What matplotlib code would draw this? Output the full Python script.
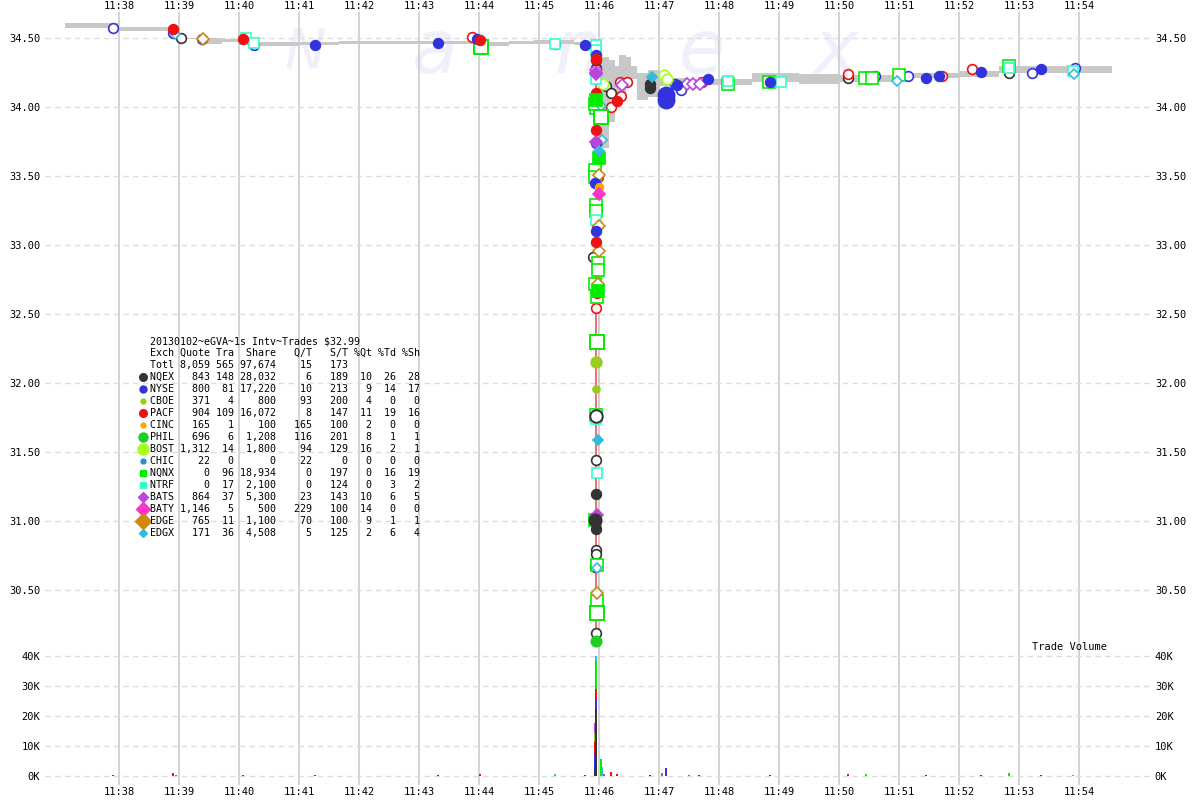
import matplotlib.pyplot as plt
import numpy as np

plt.rcParams['font.family'] = 'DejaVu Sans Mono'

# ---- NBBO quote band (time, bid, ask) ----
quote_times = ["11:37:06", "11:38:00", "11:38:58", "11:39:20", "11:39:43", "11:40:00",
               "11:40:15", "11:41:00", "11:41:40", "11:43:40", "11:44:10", "11:44:30",
               "11:44:55", "11:45:35", "11:45:59", "11:46:00", "11:46:10", "11:46:16",
               "11:46:20", "11:46:27", "11:46:32", "11:46:38", "11:46:49", "11:47:01",
               "11:47:30", "11:48:33", "11:49:20", "11:50:00", "11:51:00", "11:52:00",
               "11:52:40", "11:53:30", "11:54:33"]
quote_bid = [34.57, 34.55, 34.49, 34.455, 34.47, 34.45, 34.44, 34.45, 34.455, 34.46, 34.44,
             34.46, 34.46, 34.45, 30.20, 33.70, 33.89, 34.10, 34.04, 34.15, 34.20, 34.05,
             34.07, 34.15, 34.16, 34.18, 34.17, 34.18, 34.21, 34.22, 34.25, 34.25, 34.25]
quote_ask = [34.61, 34.58, 34.50, 34.50, 34.49, 34.49, 34.47, 34.47, 34.475, 34.48, 34.47,
             34.48, 34.485, 34.47, 34.42, 34.36, 34.34, 34.30, 34.38, 34.36, 34.30, 34.25,
             34.27, 34.21, 34.20, 34.25, 34.24, 34.23, 34.245, 34.26, 34.30, 34.30, 34.30]

# ---- prints by exchange: (time, price) ----
nqex_fill = [("11:45:57", 34.34), ("11:45:57", 31.195), ("11:45:57", 30.94),
             ("11:46:51", 34.17), ("11:46:51", 34.14)]
nqex_open = [("11:39:02", 34.50), ("11:45:57", 34.28), ("11:46:07", 34.15), ("11:46:12", 34.10),
             ("11:45:54", 32.91), ("11:45:57", 31.44), ("11:45:57", 30.79), ("11:45:57", 30.76),
             ("11:45:56", 30.67), ("11:45:57", 30.19), ("11:50:09", 34.21), ("11:52:50", 34.245)]
nyse_fill = [("11:41:16", 34.45), ("11:43:19", 34.466), ("11:43:58", 34.49), ("11:45:46", 34.45),
             ("11:45:57", 34.38), ("11:45:57", 33.74), ("11:45:57", 33.10), ("11:45:56", 33.45),
             ("11:47:18", 34.16), ("11:47:49", 34.20), ("11:48:51", 34.18), ("11:51:27", 34.21),
             ("11:51:40", 34.225), ("11:52:22", 34.255), ("11:53:22", 34.275)]
nyse_open = [("11:37:54", 34.575), ("11:38:54", 34.535), ("11:39:23", 34.49), ("11:40:15", 34.45),
             ("11:45:16", 34.455), ("11:47:16", 34.17), ("11:47:22", 34.12), ("11:50:36", 34.225),
             ("11:51:09", 34.225), ("11:53:13", 34.25), ("11:53:56", 34.28)]
cboe_fill = [("11:45:57", 31.96)]
pacf_fill = [("11:38:54", 34.565), ("11:40:04", 34.49), ("11:44:01", 34.486), ("11:45:57", 34.35),
             ("11:45:57", 34.10), ("11:45:57", 33.83), ("11:45:57", 33.02), ("11:45:58", 32.65),
             ("11:46:18", 34.04)]
pacf_open = [("11:43:53", 34.505), ("11:45:59", 33.49), ("11:45:58", 33.14), ("11:45:57", 32.54),
             ("11:46:12", 34.00), ("11:46:21", 34.18), ("11:46:22", 34.08), ("11:46:28", 34.18),
             ("11:47:43", 34.18), ("11:50:09", 34.24), ("11:50:27", 34.22), ("11:51:43", 34.225),
             ("11:52:13", 34.275)]
cinc_fill = [("11:46:00", 33.42)]
phil_fill = [("11:45:57", 30.13)]
bost_open = [("11:46:04", 34.17), ("11:47:05", 34.23), ("11:47:08", 34.20)]
nqnx_fill = [("11:45:57", 34.05), ("11:46:00", 33.63), ("11:45:59", 32.67)]
nqnx_open = [("11:45:57", 33.99), ("11:45:56", 34.02), ("11:45:57", 33.29), ("11:45:57", 33.25),
             ("11:45:56", 33.54), ("11:45:56", 33.49), ("11:45:59", 32.87), ("11:45:59", 32.82),
             ("11:45:56", 32.72), ("11:45:58", 32.62), ("11:45:57", 31.77), ("11:45:56", 31.01),
             ("11:45:58", 30.68), ("11:45:58", 30.42), ("11:48:09", 34.17), ("11:48:50", 34.18),
             ("11:50:26", 34.21), ("11:50:33", 34.21), ("11:51:00", 34.23), ("11:52:50", 34.30)]
ntrf_open = [("11:40:07", 34.50), ("11:40:15", 34.466), ("11:45:16", 34.46), ("11:45:57", 34.45),
             ("11:45:57", 34.41), ("11:45:57", 34.20), ("11:45:57", 33.18), ("11:45:58", 31.35),
             ("11:45:57", 31.74), ("11:48:09", 34.19), ("11:49:02", 34.18), ("11:52:50", 34.28),
             ("11:53:54", 34.26)]
bats_fill = [("11:45:57", 34.24), ("11:45:57", 33.75), ("11:45:58", 31.04)]
bats_open = [("11:45:57", 34.27), ("11:45:57", 34.25), ("11:46:23", 34.16), ("11:47:28", 34.17),
             ("11:47:34", 34.17), ("11:47:41", 34.17)]
baty_fill = [("11:46:00", 33.37)]
edge_open = [("11:39:24", 34.49), ("11:46:00", 33.51), ("11:46:00", 33.14), ("11:46:00", 32.96),
             ("11:45:59", 32.72), ("11:45:58", 30.48)]
edgx_fill = [("11:46:00", 33.68), ("11:45:59", 31.59), ("11:46:53", 34.22)]
edgx_open = [("11:38:56", 34.53), ("11:46:02", 34.01), ("11:46:03", 33.76), ("11:50:58", 34.19),
             ("11:53:55", 34.24), ("11:45:58", 30.66)]

# larger prints: (exch, time, price, shares, filled)
large_prints = [("NYSE", "11:47:07", 34.09, 2700, True), ("NYSE", "11:47:07", 34.05, 2700, True),
                ("NQEX", "11:45:57", 31.76, 1000, False), ("NQEX", "11:45:56", 31.01, 900, True),
                ("CBOE", "11:45:57", 32.15, 400, True),
                ("NQNX", "11:44:02", 34.437, 1300, False), ("NQNX", "11:46:02", 33.93, 1500, False),
                ("NQNX", "11:45:58", 32.30, 1300, False), ("NQNX", "11:45:58", 30.33, 1500, False)]

# ---- trade volume (time, exch, shares) ----
vol_times = ["11:37:54", "11:38:54", "11:38:57", "11:40:04", "11:41:16", "11:43:19", "11:44:01",
             "11:45:16", "11:45:46",
             "11:45:56", "11:45:56", "11:45:56", "11:45:56", "11:45:56",
             "11:45:57", "11:45:57", "11:45:57", "11:45:57", "11:45:57",
             "11:46:02", "11:46:03", "11:46:05", "11:46:12", "11:46:18", "11:46:51",
             "11:47:03", "11:47:07", "11:47:30", "11:47:40", "11:48:51", "11:50:09",
             "11:50:27", "11:51:27", "11:52:22", "11:52:50", "11:53:22", "11:53:54"]
vol_exch = ["NYSE", "PACF", "BATS", "PACF", "NYSE", "NYSE", "PACF",
            "EDGX", "NYSE",
            "NQEX", "NYSE", "PACF", "CBOE", "BATS",
            "NQEX", "NYSE", "PACF", "NQNX", "EDGX",
            "NQNX", "EDGX", "BATS", "PACF", "PACF", "NQEX",
            "BATS", "NYSE", "BATS", "NYSE", "NYSE", "PACF",
            "NQNX", "NYSE", "NYSE", "NQNX", "NYSE", "EDGX"]
vol_shares = [300, 900, 400, 300, 300, 300, 600,
              600, 300,
              2300, 5000, 3900, 3300, 3300,
              22500, 3100, 3500, 9200, 1700,
              5700, 2900, 700, 1400, 700, 500,
              900, 2700, 300, 300, 400, 800,
              600, 300, 300, 1000, 300, 300]

# ---- table ----
exch_names = ["NQEX", "NYSE", "CBOE", "PACF", "CINC", "PHIL", "BOST", "CHIC",
              "NQNX", "NTRF", "BATS", "BATY", "EDGE", "EDGX"]
quotes = [843, 800, 371, 904, 165, 696, 1312, 22, 0, 0, 864, 1146, 765, 171]
trades = [148, 81, 4, 109, 1, 6, 14, 0, 96, 17, 37, 5, 11, 36]
shares = [28032, 17220, 800, 16072, 100, 1208, 1800, 0, 18934, 2100, 5300, 500, 1100, 4508]
q_per_t = [6, 10, 93, 8, 165, 116, 94, 22, 0, 0, 23, 229, 70, 5]
s_per_t = [189, 213, 200, 147, 100, 201, 129, 0, 197, 124, 143, 100, 100, 125]
pct_qt = [10, 9, 4, 11, 2, 8, 16, 0, 0, 0, 10, 14, 9, 2]
pct_td = [26, 14, 0, 19, 0, 1, 2, 0, 16, 3, 6, 0, 1, 6]
pct_sh = [28, 17, 0, 16, 0, 1, 1, 0, 19, 2, 5, 0, 1, 4]
totals = [8059, 565, 97674, 15, 173]
title_line = "20130102~eGVA~1s Intv~Trades $32.99"

# style per exchange: colour, marker, chart size, legend size
style = {
    "NQEX": ("#333333", "o", 7, 5.5),
    "NYSE": ("#3333dd", "o", 7, 5),
    "CBOE": ("#99cc22", "o", 5, 3.5),
    "PACF": ("#ee1111", "o", 7, 5.5),
    "CINC": ("#ffa500", "o", 5.5, 3.5),
    "PHIL": ("#22cc22", "o", 7.5, 6.5),
    "BOST": ("#aaff22", "o", 7.5, 8),
    "CHIC": ("#2a8fd0", "o", 5, 3.5),
    "NQNX": ("#00ee00", "s", 8, 4),
    "NTRF": ("#33ffcc", "s", 7.5, 4),
    "BATS": ("#bb44dd", "D", 6, 5.5),
    "BATY": ("#ff33cc", "D", 6.5, 7),
    "EDGE": ("#cc8811", "D", 6.5, 8),
    "EDGX": ("#33bbdd", "D", 5.5, 4.5),
}


def tm(s):
    h, m, sec = (int(v) for v in s.split(":"))
    return (h - 11) * 60 + m + sec / 60.0


def px_y(y):
    return 1 - y / 800.0


fig = plt.figure(figsize=(12, 8), dpi=100)
ax = fig.add_axes([45 / 1200, px_y(648), 1105 / 1200, (648 - 12) / 800])
axv = fig.add_axes([45 / 1200, px_y(785), 1105 / 1200, (785 - 648) / 800], sharex=ax)

xmin, xmax = 38 - 74 / 60, 38 + 1031 / 60
ax.set_xlim(xmin, xmax)
ax.set_ylim(34.5 - 610 / 138, 34.5 + 26 / 138)
axv.set_ylim(-3000, 42667)

minutes = np.arange(38, 55)
for a in (ax, axv):
    for s in a.spines.values():
        s.set_visible(False)
    a.set_axisbelow(True)
    a.set_xticks(minutes)
    a.set_xticklabels(["11:%02d" % m for m in minutes])
    a.grid(axis='x', color='#cccccc', lw=1.2, ls='-')
    a.grid(axis='y', color='#dddddd', lw=1, ls=(0, (4, 3)))
    a.tick_params(axis='both', length=0, labelsize=7.5, colors='black')
    a.tick_params(axis='y', labelleft=True, labelright=True, pad=3.5)

ax.tick_params(axis='x', top=False, labeltop=True, bottom=False, labelbottom=False, pad=0.5)
axv.tick_params(axis='x', labelbottom=True, labeltop=False, pad=1.5)

pticks = np.arange(30.5, 34.51, 0.5)
ax.set_yticks(pticks)
ax.set_yticklabels(["%.2f" % v for v in pticks])
vticks = np.arange(0, 40001, 10000)
axv.set_yticks(vticks)
axv.set_yticklabels(["%dK" % (v // 1000) for v in vticks])

# watermark
for ch, xp, fs in [("N", 305, 40), ("a", 435, 54), ("n", 578, 54), ("e", 702, 54), ("x", 836, 54)]:
    ax.text((xp - 45) / 1105, (648 - 52) / 636, ch, transform=ax.transAxes, ha='center',
            va='center', fontsize=fs, color='#f0f0fc', family='DejaVu Sans',
            style='italic', zorder=0)

# quote band
qt = [tm(t) for t in quote_times]
ax.fill_between(qt, quote_bid, quote_ask, step='post', color='#c8c8c8', lw=0, zorder=1)

# trade path through the drop
ax.vlines(tm("11:45:57"), 30.13, 34.35, color='#ee5555', lw=1.2, zorder=2)

groups = [("NQEX", nqex_fill, True), ("NQEX", nqex_open, False),
          ("NYSE", nyse_fill, True), ("NYSE", nyse_open, False),
          ("CBOE", cboe_fill, True), ("PACF", pacf_fill, True), ("PACF", pacf_open, False),
          ("CINC", cinc_fill, True), ("PHIL", phil_fill, True), ("BOST", bost_open, False),
          ("NQNX", nqnx_fill, True), ("NQNX", nqnx_open, False), ("NTRF", ntrf_open, False),
          ("BATS", bats_fill, True), ("BATS", bats_open, False), ("BATY", baty_fill, True),
          ("EDGE", edge_open, False), ("EDGX", edgx_fill, True), ("EDGX", edgx_open, False)]

for ex, pts, filled in groups:
    col, mk, ms, _ = style[ex]
    xs = [tm(t) for t, p in pts]
    ys = [p for t, p in pts]
    ax.plot(xs, ys, ls='none', marker=mk, ms=ms, mec=col, mew=1.2,
            mfc=col if filled else 'white', zorder=4 if filled else 3)

for ex, t, p, sh, filled in large_prints:
    col, mk, ms, _ = style[ex]
    size = 5 + np.sqrt(sh) / 8
    ax.plot([tm(t)], [p], ls='none', marker=mk, ms=size, mec=col, mew=1.4,
            mfc=col if filled else 'white', zorder=4 if filled else 3)

# stacked volume bars
bottoms = {}
for t, ex, sh in zip(vol_times, vol_exch, vol_shares):
    x = tm(t)
    b = bottoms.get(t, 0)
    axv.bar(x, sh, bottom=b, width=1.6 / 60, color=style[ex][0], lw=0, zorder=3)
    bottoms[t] = b + sh

fig.text(1032 / 1200, px_y(647), "Trade Volume", fontsize=7.5, va='center', ha='left')

# stats table overlay
ov = fig.add_axes([0, 0, 1, 1], facecolor='none')
ov.set_xlim(0, 1200)
ov.set_ylim(800, 0)
ov.axis('off')

tfs = 7.2
ov.text(150, 341, title_line, fontsize=tfs, va='center', ha='left')
ov.text(150, 353, "Exch Quote Tra  Share   Q/T   S/T %Qt %Td %Sh", fontsize=tfs, va='center')
ov.text(150, 365, "Totl%6s%4s%7s%6s%6s" % ("{:,}".format(totals[0]), totals[1],
                                          "{:,}".format(totals[2]), totals[3], totals[4]),
        fontsize=tfs, va='center')
for i, ex in enumerate(exch_names):
    y = 377 + 12 * i
    row = "%-4s%6s%4s%7s%6s%6s%4s%4s%4s" % (ex, "{:,}".format(quotes[i]), trades[i],
                                            "{:,}".format(shares[i]), q_per_t[i], s_per_t[i],
                                            pct_qt[i], pct_td[i], pct_sh[i])
    ov.text(150, y, row, fontsize=tfs, va='center')
    col, mk, _, lms = style[ex]
    ov.plot([143], [y], ls='none', marker=mk, ms=lms, mfc=col, mec=col)

fig.savefig("out.png", dpi=100)
